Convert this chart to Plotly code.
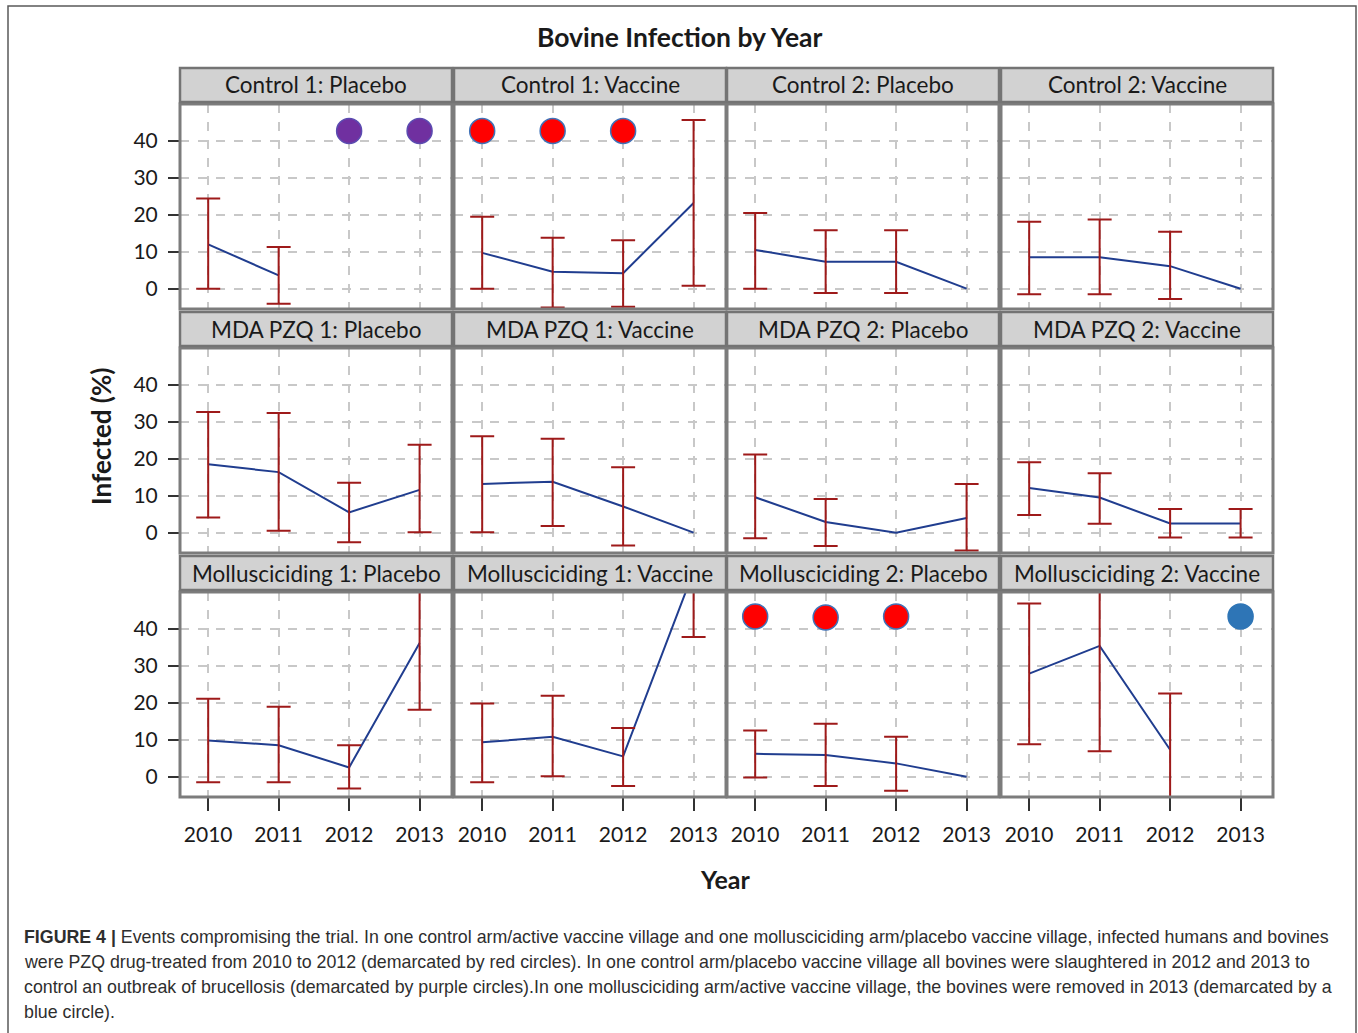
import plotly.graph_objects as go

# ---------------- data ----------------
years = [2010, 2011, 2012, 2013]
year_labels = ["2010", "2011", "2012", "2013"]
y_ticks = [0, 10, 20, 30, 40]

panel_titles = [
    "Control 1: Placebo", "Control 1: Vaccine", "Control 2: Placebo", "Control 2: Vaccine",
    "MDA PZQ 1: Placebo", "MDA PZQ 1: Vaccine", "MDA PZQ 2: Placebo", "MDA PZQ 2: Vaccine",
    "Mollusciciding 1: Placebo", "Mollusciciding 1: Vaccine",
    "Mollusciciding 2: Placebo", "Mollusciciding 2: Vaccine",
]

# mean infected (%) per year, lower and upper CI bounds (None = not shown)
c1p_mean = [12.0, 3.6, None, None]
c1p_lo = [0.0, -4.1, None, None]
c1p_hi = [24.4, 11.3, None, None]

c1v_mean = [9.7, 4.6, 4.2, 23.2]
c1v_lo = [0.0, -5.1, -4.9, 0.8]
c1v_hi = [19.5, 13.8, 13.1, 45.7]

c2p_mean = [10.5, 7.3, 7.3, 0.0]
c2p_lo = [0.0, -1.2, -1.2, None]
c2p_hi = [20.5, 15.8, 15.8, None]

c2v_mean = [8.5, 8.5, 6.1, 0.0]
c2v_lo = [-1.5, -1.5, -2.8, None]
c2v_hi = [18.1, 18.7, 15.4, None]

m1p_mean = [18.5, 16.4, 5.5, 11.6]
m1p_lo = [4.1, 0.5, -2.6, 0.1]
m1p_hi = [32.7, 32.4, 13.5, 23.8]

m1v_mean = [13.2, 13.8, 7.1, 0.0]
m1v_lo = [0.1, 1.8, -3.5, None]
m1v_hi = [26.1, 25.4, 17.7, None]

m2p_mean = [9.6, 2.9, 0.0, 4.0]
m2p_lo = [-1.5, -3.6, None, -4.8]
m2p_hi = [21.2, 9.1, None, 13.2]

m2v_mean = [12.1, 9.5, 2.5, 2.5]
m2v_lo = [4.8, 2.4, -1.3, -1.3]
m2v_hi = [19.1, 16.1, 6.4, 6.4]

l1p_mean = [9.8, 8.5, 2.5, 36.2]
l1p_lo = [-1.5, -1.5, -3.2, 18.1]
l1p_hi = [21.1, 18.9, 8.5, 54.3]

l1v_mean = [9.3, 10.8, 5.5, 55.6]
l1v_lo = [-1.5, 0.1, -2.5, 37.8]
l1v_hi = [19.8, 21.9, 13.2, 73.4]

l2p_mean = [6.2, 5.9, 3.6, 0.0]
l2p_lo = [-0.2, -2.5, -3.8, None]
l2p_hi = [12.5, 14.3, 10.8, None]

l2v_mean = [27.9, 35.4, 7.3, None]
l2v_lo = [8.8, 6.9, -7.9, None]
l2v_hi = [46.9, 63.9, 22.5, None]

panel_means = [c1p_mean, c1v_mean, c2p_mean, c2v_mean, m1p_mean, m1v_mean,
               m2p_mean, m2v_mean, l1p_mean, l1v_mean, l2p_mean, l2v_mean]
panel_lows = [c1p_lo, c1v_lo, c2p_lo, c2v_lo, m1p_lo, m1v_lo,
              m2p_lo, m2v_lo, l1p_lo, l1v_lo, l2p_lo, l2v_lo]
panel_highs = [c1p_hi, c1v_hi, c2p_hi, c2v_hi, m1p_hi, m1v_hi,
               m2p_hi, m2v_hi, l1p_hi, l1v_hi, l2p_hi, l2v_hi]

# event circles: panel index, year, level, colour
event_panel = [0, 0, 1, 1, 1, 10, 10, 10, 11]
event_year = [2012, 2013, 2010, 2011, 2012, 2010, 2011, 2012, 2013]
event_y = [42.7, 42.7, 42.7, 42.7, 42.7, 43.4, 43.1, 43.4, 43.4]
event_color = ["#7030a0", "#7030a0", "#ff0000", "#ff0000", "#ff0000",
               "#ff0000", "#ff0000", "#ff0000", "#2e75b6"]
event_edge = ["#5b4bb0", "#5b4bb0", "#3f72b8", "#3f72b8", "#3f72b8",
              "#3f72b8", "#3f72b8", "#3f72b8", "#2e75b6"]

caption_lines = [
    "<b>FIGURE 4 |</b> Events compromising the trial. In one control arm/active vaccine village and one mollusciciding arm/placebo vaccine village, infected humans and bovines",
    "were PZQ drug-treated from 2010 to 2012 (demarcated by red circles). In one control arm/placebo vaccine village all bovines were slaughtered in 2012 and 2013 to",
    "control an outbreak of brucellosis (demarcated by purple circles).In one mollusciciding arm/active vaccine village, the bovines were removed in 2013 (demarcated by a",
    "blue circle).",
]

# ---------------- layout geometry ----------------
W, H = 1358, 1033
col_left = [180, 454, 727, 1001]
col_w = 272
row_top = [104, 348, 592]
row_h = 205
strip_h = 34
strip_gap = 2

FONT = "Lato, 'Open Sans', sans-serif"
LINE_COLOR = "#203d8f"
ERR_COLOR = "#9e1a1a"


def fx(p):
    return p / W


def fy(p):
    return 1 - p / H


fig = go.Figure()
layout = dict(
    width=W, height=H,
    margin=dict(l=0, r=0, t=0, b=0),
    paper_bgcolor="white", plot_bgcolor="white",
    showlegend=False,
    font=dict(family=FONT, color="#222222"),
)
shapes = []
annotations = []

for i in range(12):
    r, c = divmod(i, 4)
    k = i + 1
    xa = "x" if k == 1 else f"x{k}"
    ya = "y" if k == 1 else f"y{k}"
    left = col_left[c]
    top = row_top[r]

    layout["xaxis" if k == 1 else f"xaxis{k}"] = dict(
        domain=[fx(left), fx(left + col_w)],
        range=[2009.6, 2013.46],
        anchor=ya,
        tickvals=years,
        ticktext=year_labels,
        showticklabels=(r == 2),
        ticks="outside" if r == 2 else "",
        ticklen=13, tickwidth=1.5, tickcolor="#333333",
        ticklabelstandoff=6,
        tickfont=dict(family=FONT, size=21, color="#1a1a1a"),
        showgrid=True, gridcolor="#c8c8c8", griddash="dash", gridwidth=1.5,
        zeroline=False, showline=False, fixedrange=True,
    )
    layout["yaxis" if k == 1 else f"yaxis{k}"] = dict(
        domain=[fy(top + row_h), fy(top)],
        range=[-5.5, 50],
        anchor=xa,
        tickvals=y_ticks,
        showticklabels=(c == 0),
        ticks="outside" if c == 0 else "",
        ticklen=11, tickwidth=1.5, tickcolor="#333333",
        ticklabelstandoff=6,
        tickfont=dict(family=FONT, size=21, color="#1a1a1a"),
        showgrid=True, gridcolor="#c8c8c8", griddash="dash", gridwidth=1.5,
        zeroline=False, showline=False, fixedrange=True,
    )

    means = panel_means[i]
    lows = panel_lows[i]
    highs = panel_highs[i]

    fig.add_trace(go.Scatter(
        x=years, y=means, mode="lines", xaxis=xa, yaxis=ya,
        line=dict(color=LINE_COLOR, width=2), connectgaps=False, hoverinfo="skip",
    ))

    ex, ey, ep, em = [], [], [], []
    for yr, m, lo, hi in zip(years, means, lows, highs):
        if m is None or lo is None or hi is None:
            continue
        ex.append(yr)
        ey.append(m)
        ep.append(hi - m)
        em.append(m - lo)
    fig.add_trace(go.Scatter(
        x=ex, y=ey, mode="markers", xaxis=xa, yaxis=ya,
        marker=dict(size=1, color="rgba(0,0,0,0)"),
        error_y=dict(type="data", symmetric=False, array=ep, arrayminus=em,
                     color=ERR_COLOR, thickness=2, width=12),
        hoverinfo="skip",
    ))

    # event circles for this panel
    pts = [j for j, p in enumerate(event_panel) if p == i]
    if pts:
        fig.add_trace(go.Scatter(
            x=[event_year[j] for j in pts], y=[event_y[j] for j in pts],
            mode="markers", xaxis=xa, yaxis=ya,
            marker=dict(size=25, color=[event_color[j] for j in pts],
                        line=dict(color=[event_edge[j] for j in pts], width=1.5)),
            cliponaxis=False, hoverinfo="skip",
        ))

    # panel border
    shapes.append(dict(type="rect", xref="paper", yref="paper", layer="above",
                       x0=fx(left), x1=fx(left + col_w), y0=fy(top + row_h), y1=fy(top),
                       line=dict(color="#7c7c7c", width=3), fillcolor="rgba(0,0,0,0)"))
    # strip header
    s_top = top - strip_gap - strip_h
    shapes.append(dict(type="rect", xref="paper", yref="paper", layer="above",
                       x0=fx(left), x1=fx(left + col_w), y0=fy(top - strip_gap), y1=fy(s_top),
                       line=dict(color="#747474", width=2.5), fillcolor="#d2d2d2"))
    annotations.append(dict(
        text=panel_titles[i], xref="paper", yref="paper",
        x=fx(left + col_w / 2), y=fy(s_top + strip_h / 2),
        xanchor="center", yanchor="middle", showarrow=False,
        font=dict(family=FONT, size=22.5, color="#1a1a1a"),
    ))

# outer frame
shapes.append(dict(type="rect", xref="paper", yref="paper", layer="above",
                   x0=fx(8), x1=fx(1356), y0=fy(1045), y1=fy(6),
                   line=dict(color="#5a5a5a", width=1.5), fillcolor="rgba(0,0,0,0)"))

# titles
annotations.append(dict(text="<b>Bovine Infection by Year</b>", xref="paper", yref="paper",
                        x=fx(680), y=fy(37), xanchor="center", yanchor="middle",
                        showarrow=False, font=dict(family=FONT, size=26.5, color="#1a1a1a")))
annotations.append(dict(text="<b>Infected (%)</b>", xref="paper", yref="paper",
                        x=fx(101), y=fy(437), xanchor="center", yanchor="middle",
                        textangle=-90, showarrow=False,
                        font=dict(family=FONT, size=26, color="#1a1a1a")))
annotations.append(dict(text="<b>Year</b>", xref="paper", yref="paper",
                        x=fx(725), y=fy(879), xanchor="center", yanchor="middle",
                        showarrow=False, font=dict(family=FONT, size=25, color="#1a1a1a")))

# caption
for n, line in enumerate(caption_lines):
    annotations.append(dict(text=line, xref="paper", yref="paper",
                            x=fx(22), y=fy(937 + 25 * n), xanchor="left", yanchor="middle",
                            showarrow=False,
                            font=dict(family="'Liberation Sans', Arial, sans-serif",
                                      size=17.8, color="#2e2e2e")))

layout["shapes"] = shapes
layout["annotations"] = annotations
fig.update_layout(**layout)
fig.write_html("out.html",
               config={"displayModeBar": False},
               post_script="document.body.style.margin='0';document.body.style.overflow='hidden';")
